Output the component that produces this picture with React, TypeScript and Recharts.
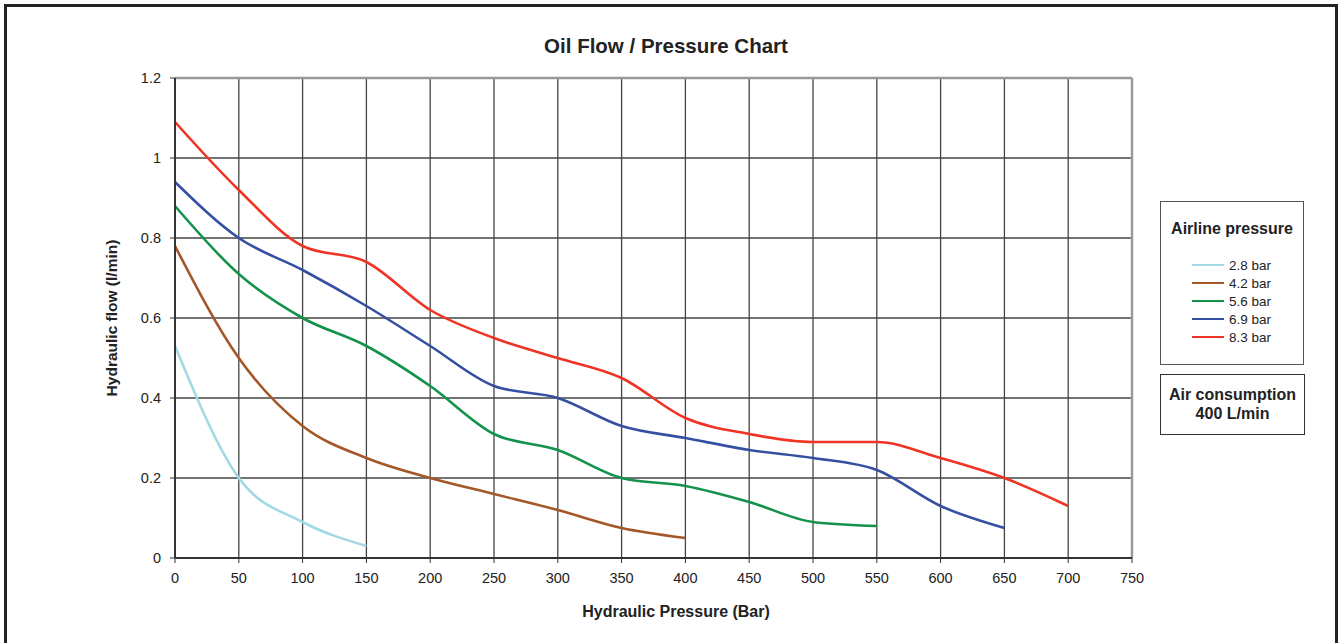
import React from "react";
import { LineChart, Line, XAxis, YAxis, CartesianGrid, ReferenceLine } from "recharts";

const pressures = [0, 50, 100, 150, 200, 250, 300, 350, 400, 450, 500, 550, 600, 650, 700];
const flow28 = [0.53, 0.2, 0.09, 0.03];
const flow42 = [0.78, 0.5, 0.33, 0.25, 0.2, 0.16, 0.12, 0.075, 0.05];
const flow56 = [0.88, 0.71, 0.6, 0.53, 0.43, 0.31, 0.27, 0.2, 0.18, 0.14, 0.09, 0.08];
const flow69 = [0.94, 0.8, 0.72, 0.63, 0.53, 0.43, 0.4, 0.33, 0.3, 0.27, 0.25, 0.22, 0.13, 0.075];
const flow83 = [1.09, 0.92, 0.78, 0.74, 0.62, 0.55, 0.5, 0.45, 0.35, 0.31, 0.29, 0.29, 0.25, 0.2, 0.13];

const xTicks = [0, 50, 100, 150, 200, 250, 300, 350, 400, 450, 500, 550, 600, 650, 700, 750];
const yTicks = [0, 0.2, 0.4, 0.6, 0.8, 1, 1.2];

const seriesList = [
  { key: "b28", name: "2.8 bar", values: flow28, color: "#a3d9e6" },
  { key: "b42", name: "4.2 bar", values: flow42, color: "#a4582a" },
  { key: "b56", name: "5.6 bar", values: flow56, color: "#13924b" },
  { key: "b69", name: "6.9 bar", values: flow69, color: "#3550a2" },
  { key: "b83", name: "8.3 bar", values: flow83, color: "#ef3425" },
];

const data = pressures.map((p, i) => {
  const row: Record<string, number> = { pressure: p };
  seriesList.forEach((s) => {
    if (i < s.values.length) row[s.key] = s.values[i];
  });
  return row;
});

const font = "'Liberation Sans', Arial, sans-serif";
const tickStyle = { fill: "#222", fontSize: 14.5, fontFamily: font };

export default function App() {
  return (
    <div
      style={{
        position: "absolute",
        left: 0,
        top: 0,
        width: 1342,
        height: 643,
        overflow: "hidden",
        background: "#fff",
        fontFamily: font,
        color: "#222",
      }}
    >
      <div
        style={{
          position: "absolute",
          left: 4,
          top: 4,
          width: 1328,
          height: 700,
          border: "3px solid #222",
        }}
      />
      <div
        style={{
          position: "absolute",
          left: 0,
          width: 1332,
          top: 34,
          textAlign: "center",
          fontWeight: "bold",
          fontSize: 20.5,
        }}
      >
        Oil Flow / Pressure Chart
      </div>
      <LineChart
        width={1342}
        height={643}
        data={data}
        margin={{ top: 78, right: 210, left: 115, bottom: 55 }}
        style={{ position: "absolute", left: 0, top: 0 }}
      >
        <CartesianGrid stroke="#444" strokeWidth={1.3} />
        <XAxis
          dataKey="pressure"
          type="number"
          domain={[0, 750]}
          ticks={xTicks}
          interval={0}
          height={30}
          tick={tickStyle}
          tickSize={5}
          tickMargin={10}
          axisLine={{ stroke: "#333", strokeWidth: 2 }}
          tickLine={{ stroke: "#333" }}
        />
        <YAxis
          type="number"
          domain={[0, 1.2]}
          ticks={yTicks}
          interval={0}
          width={60}
          tick={tickStyle}
          tickSize={5}
          tickMargin={9}
          axisLine={{ stroke: "#333", strokeWidth: 2 }}
          tickLine={{ stroke: "#333" }}
        />
        <ReferenceLine y={1.2} stroke="#9a9a9a" strokeWidth={2.5} />
        <ReferenceLine x={750} stroke="#9a9a9a" strokeWidth={2.5} />
        {seriesList.map((s) => (
          <Line
            key={s.key}
            dataKey={s.key}
            name={s.name}
            type="monotone"
            stroke={s.color}
            strokeWidth={2.6}
            dot={false}
            activeDot={false}
            isAnimationActive={false}
          />
        ))}
      </LineChart>
      <div
        style={{
          position: "absolute",
          left: 12,
          top: 308,
          width: 200,
          textAlign: "center",
          fontWeight: "bold",
          fontSize: 15.5,
          transform: "rotate(-90deg)",
          transformOrigin: "center",
          lineHeight: "20px",
          height: 20,
        }}
      >
        Hydraulic flow (l/min)
      </div>
      <div
        style={{
          position: "absolute",
          left: 476,
          top: 603,
          width: 400,
          textAlign: "center",
          fontWeight: "bold",
          fontSize: 16,
        }}
      >
        Hydraulic Pressure (Bar)
      </div>
      <div
        style={{
          position: "absolute",
          left: 1160,
          top: 201,
          width: 142,
          height: 162,
          border: "1.5px solid #555",
        }}
      >
        <div style={{ textAlign: "center", fontWeight: "bold", fontSize: 16, marginTop: 18 }}>
          Airline pressure
        </div>
        <div style={{ marginTop: 18 }}>
          {seriesList.map((s) => (
            <div key={s.key} style={{ display: "flex", alignItems: "center", height: 18 }}>
              <div style={{ marginLeft: 31, width: 32, height: 2.5, background: s.color }} />
              <span style={{ marginLeft: 5, fontSize: 13.5 }}>{s.name}</span>
            </div>
          ))}
        </div>
      </div>
      <div
        style={{
          position: "absolute",
          left: 1160,
          top: 374,
          width: 145,
          height: 61,
          border: "1.5px solid #333",
          textAlign: "center",
          fontWeight: "bold",
          fontSize: 16,
          lineHeight: "19px",
          paddingTop: 10,
          boxSizing: "border-box",
        }}
      >
        Air consumption
        <br />
        400 L/min
      </div>
    </div>
  );
}
